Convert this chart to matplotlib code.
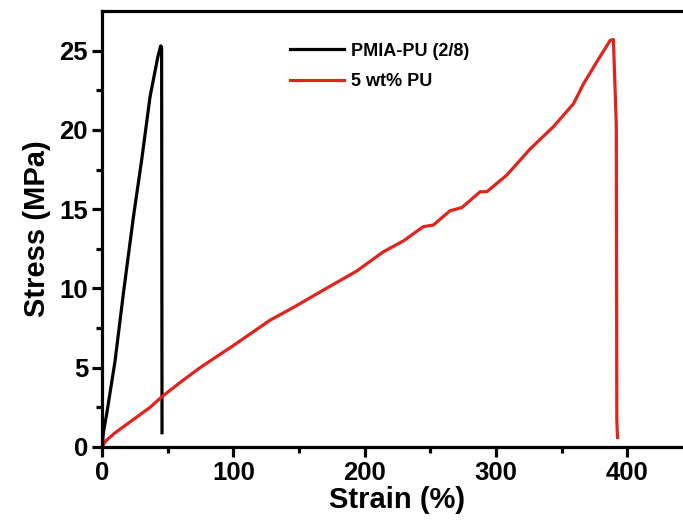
import numpy as np
import matplotlib.pyplot as plt

plt.rcParams['font.family'] = ['Liberation Sans', 'DejaVu Sans']
plt.rcParams['font.weight'] = 'bold'

# PMIA-PU (2/8)
strain_a = [0, 1.2, 3.6, 9.9, 16.3, 23.9, 30.2, 36.6, 42.5, 44.7, 45.4, 45.7]
stress_a = [0, 1.0, 2.1, 5.4, 9.7, 14.5, 18.1, 22.1, 24.6, 25.3, 25.2, 0.9]

# 5 wt% PU
strain_b = [0, 3, 10, 20, 36.6, 46, 60, 74.6, 100, 128, 145.7, 168.6, 194, 214, 229.5,
            244.7, 252.3, 265, 274, 287.9, 293, 308.2, 326, 343.7, 359, 366.6, 376.8,
            387, 389.4, 391.6, 392, 392.3, 392.6]
stress_b = [0, 0.4, 0.9, 1.5, 2.5, 3.2, 4.1, 5.0, 6.4, 8.0, 8.8, 9.9, 11.1, 12.3, 13.0,
            13.9, 14.0, 14.9, 15.1, 16.1, 16.1, 17.15, 18.8, 20.2, 21.65, 22.9, 24.3,
            25.65, 25.7, 20.3, 1.7, 1.0, 0.6]

fig = plt.figure(figsize=(6.83, 5.3), dpi=100)
ax = fig.add_axes([102 / 683, 83 / 530, 591 / 683, 436 / 530])

ax.plot(strain_a, stress_a, color='black', lw=2.3, label='PMIA-PU (2/8)')
ax.plot(strain_b, stress_b, color='#e3231b', lw=2.3, label='5 wt% PU')

ax.set_xlim(0, 450)
ax.set_ylim(0, 27.5)
ax.set_xticks([0, 100, 200, 300, 400])
ax.set_xticks(np.arange(50, 450, 100), minor=True)
ax.set_yticks([0, 5, 10, 15, 20, 25])
ax.set_yticks(np.arange(2.5, 27.5, 5), minor=True)

for s in ax.spines.values():
    s.set_linewidth(2.3)
ax.tick_params(which='major', direction='out', length=7, width=2.3, labelsize=18.5, pad=3)
ax.tick_params(which='minor', direction='out', length=4.5, width=2.3)

ax.set_xlabel('Strain (%)', fontsize=21, fontweight='bold', labelpad=1)
ax.set_ylabel('Stress (MPa)', fontsize=21, fontweight='bold', labelpad=6)

leg = ax.legend(loc='upper left', bbox_to_anchor=(0.29, 0.965), frameon=False,
                fontsize=13, handlelength=3.0, handletextpad=0.4, labelspacing=0.75)
for t in leg.get_texts():
    t.set_fontweight('bold')

fig.savefig('out.png', dpi=100)
